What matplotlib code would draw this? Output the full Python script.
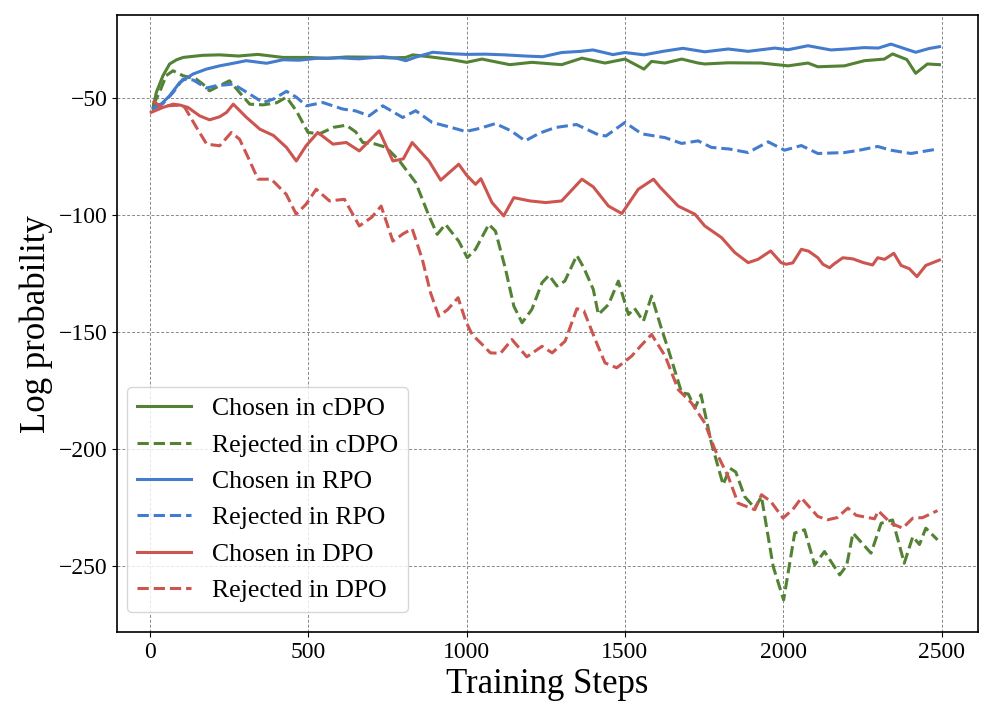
import matplotlib
matplotlib.use("Agg")
import matplotlib.pyplot as plt

plt.rcParams['font.family'] = ['Liberation Serif', 'DejaVu Serif']

# curve readings (step, log prob)
chosen_cdpo_x = [10, 20, 41, 62, 84, 105, 125, 167, 220, 280, 340, 420, 500, 560, 620, 700, 760, 808, 830, 893, 950,
                 1000, 1048, 1136, 1206, 1300, 1364, 1437, 1500, 1560, 1584, 1626, 1679, 1731, 1752, 1826, 1930,
                 2015, 2078, 2109, 2193, 2256, 2319, 2345, 2390, 2418, 2455, 2493]
chosen_cdpo_y = [-54, -47.6, -40.4, -35.4, -33.6, -32.6, -32.3, -31.7, -31.5, -32, -31.3, -32.6, -32.6, -33, -32.4,
                 -32.5, -32.8, -32.6, -31.5, -32.5, -33.5, -34.7, -33.3, -35.7, -34.7, -35.7, -32.9, -35, -33.3,
                 -37.6, -34.3, -35, -33.3, -35, -35.4, -34.9, -35, -36.2, -35, -36.6, -36.2, -34, -33.3, -31.1,
                 -33.5, -39.4, -35.4, -35.7]

rejected_cdpo_x = [10, 30, 51, 73, 104, 146, 167, 188, 230, 251, 283, 315, 357, 400, 431, 462, 499, 535, 580, 620,
                   650, 672, 710, 746, 788, 839, 881, 907, 933, 975, 1002, 1028, 1070, 1091, 1123, 1149, 1175, 1206,
                   1238, 1260, 1285, 1310, 1348, 1370, 1400, 1416, 1448, 1479, 1511, 1530, 1558, 1584, 1616, 1637,
                   1679, 1700, 1721, 1740, 1773, 1810, 1831, 1850, 1878, 1910, 1931, 1968, 2001, 2036, 2067, 2099,
                   2130, 2178, 2200, 2220, 2277, 2309, 2345, 2382, 2409, 2430, 2450, 2487]
rejected_cdpo_y = [-53, -47.6, -40.4, -38.3, -40.4, -41.9, -44, -46.9, -44, -42.6, -47.6, -52.6, -52.9, -52, -49.6,
                   -55.4, -64.7, -65.3, -62.5, -61.6, -64.5, -69, -69.6, -71.1, -76.9, -86.1, -100.4, -108.3, -104,
                   -111.2, -118.3, -114.7, -104, -106.9, -123.3, -139, -146.1, -140.4, -129, -125.8, -130.4, -128.3,
                   -117.3, -122.6, -131.9, -142.6, -138.3, -128.3, -142.6, -139.9, -145.5, -134.7, -149, -157.6,
                   -176.1, -176.6, -182.6, -176.9, -197.6, -215.4, -208.3, -210, -220.5, -225.4, -220.5, -250.4,
                   -264.7, -236.1, -234.7, -249.7, -244, -254, -250, -236.1, -244.7, -231.9, -230.5, -249, -237.6,
                   -241, -234, -239]

chosen_rpo_x = [10, 30, 62, 94, 136, 178, 220, 263, 304, 368, 420, 470, 525, 600, 660, 735, 780, 808, 839, 893, 950,
                1000, 1060, 1120, 1185, 1240, 1300, 1360, 1399, 1462, 1500, 1560, 1620, 1683, 1752, 1826, 1889, 1973,
                2015, 2078, 2150, 2200, 2256, 2300, 2340, 2418, 2460, 2493]
chosen_rpo_y = [-54.5, -53.3, -49, -43.3, -39.7, -37.6, -36.2, -35.1, -34, -35.1, -33.6, -33.8, -33, -32.8, -33.2,
                -32.3, -33, -34, -32.5, -30.4, -31, -31.3, -31.2, -31.5, -32, -32.3, -30.5, -30, -29.4, -31.4, -30.5,
                -31.5, -30, -28.7, -30.2, -29, -30, -28.6, -29.3, -27.6, -29.4, -29, -28.4, -28.6, -26.9, -30.4,
                -28.8, -28]

rejected_rpo_x = [15, 40, 73, 104, 137, 178, 210, 263, 315, 357, 390, 431, 462, 494, 546, 609, 650, 692, 735, 798,
                  839, 891, 950, 997, 1040, 1091, 1140, 1185, 1230, 1280, 1347, 1416, 1440, 1500, 1553, 1626, 1679,
                  1731, 1773, 1830, 1889, 1952, 2004, 2057, 2109, 2193, 2240, 2298, 2340, 2403, 2487]
rejected_rpo_y = [-53, -52.5, -47.6, -41.9, -42.3, -45.7, -44.7, -44, -48.3, -51.9, -50.4, -47.1, -49.6, -53.3,
                  -51.9, -54.7, -55.5, -57.6, -53.3, -58.3, -55.4, -60.4, -62.5, -64.3, -63, -60.9, -64, -68.3, -65,
                  -62.6, -61.3, -65.7, -66.2, -60.4, -65.3, -66.9, -69.4, -68.3, -71.1, -71.8, -73.3, -68.7, -72.3,
                  -70.3, -73.7, -73.3, -72.3, -70.7, -72.3, -73.7, -71.8]

chosen_dpo_x = [4, 41, 73, 95, 120, 157, 188, 220, 242, 263, 305, 347, 390, 431, 462, 493, 530, 578, 620, 661, 724,
                767, 800, 828, 881, 918, 975, 1000, 1028, 1045, 1080, 1117, 1149, 1200, 1250, 1300, 1364, 1400, 1448,
                1490, 1542, 1590, 1610, 1668, 1721, 1752, 1805, 1847, 1889, 1920, 1960, 1993, 2009, 2030, 2057, 2080,
                2109, 2125, 2146, 2160, 2188, 2220, 2253, 2282, 2298, 2320, 2349, 2372, 2398, 2422, 2450, 2493]
chosen_dpo_y = [-56.1, -54, -52.6, -53, -54, -57.6, -59.3, -58, -56.1, -52.6, -58.3, -63.3, -66, -71.1, -76.9, -70.4,
                -64.7, -69.7, -69, -72.6, -64, -76.9, -76, -69, -76.9, -85.1, -78.3, -83, -86.9, -84.5, -94.7,
                -100.4, -92.6, -94, -94.7, -94, -84.7, -88, -96.2, -99.4, -89, -84.7, -88, -96.2, -99.7, -104.7,
                -109.7, -116.1, -120.4, -119, -115.4, -120.4, -121.1, -120.5, -114.7, -115.5, -118.3, -121.1, -122.6,
                -121, -118.3, -118.8, -120.4, -121.4, -118.3, -119, -116.4, -121.6, -123, -126.4, -121.6, -119.3]

rejected_dpo_x = [9, 30, 53, 95, 110, 147, 179, 220, 257, 283, 315, 341, 383, 430, 462, 493, 525, 567, 614, 661, 700,
                  730, 767, 800, 828, 860, 886, 912, 940, 973, 997, 1017, 1049, 1075, 1107, 1143, 1190, 1238, 1270,
                  1311, 1348, 1370, 1406, 1437, 1474, 1521, 1550, 1584, 1627, 1668, 1710, 1752, 1784, 1826, 1857,
                  1910, 1931, 1960, 1999, 2030, 2057, 2109, 2140, 2170, 2204, 2230, 2288, 2300, 2340, 2377, 2409,
                  2440, 2487]
rejected_dpo_y = [-51.1, -53.3, -53.3, -53, -54, -62.6, -69.7, -70.4, -64.7, -67.6, -76.9, -84.7, -84.7, -91.1, -99.7,
                  -95.4, -89, -94, -93.3, -104.7, -101, -96.2, -111.2, -108, -105.9, -119, -133.3, -143.3, -140.5,
                  -135.4, -145.4, -151.1, -155.4, -159, -159.2, -153.3, -160.7, -156.2, -159, -154, -140.1, -141,
                  -153.3, -163.3, -165.4, -160.4, -156, -151.1, -160.4, -174.7, -180.4, -189, -200.4, -211.9, -223.3,
                  -226.1, -219.7, -222.5, -229.7, -226, -221.1, -229, -230.4, -229.5, -225.4, -228.5, -230, -226.6,
                  -231.9, -234, -229.7, -229.5, -226.5]

green = '#548235'
blue = '#437ccd'
red = '#cd5550'

fig = plt.figure(figsize=(9.97, 7.2), dpi=100)
ax = fig.add_axes([0.1174, 0.122, 0.8636, 0.857])

ax.plot(chosen_cdpo_x, chosen_cdpo_y, color=green, lw=2.2, label='Chosen in cDPO')
ax.plot(rejected_cdpo_x, rejected_cdpo_y, color=green, lw=2.2, ls='--', label='Rejected in cDPO')
ax.plot(chosen_rpo_x, chosen_rpo_y, color=blue, lw=2.2, label='Chosen in RPO')
ax.plot(rejected_rpo_x, rejected_rpo_y, color=blue, lw=2.2, ls='--', label='Rejected in RPO')
ax.plot(chosen_dpo_x, chosen_dpo_y, color=red, lw=2.2, label='Chosen in DPO')
ax.plot(rejected_dpo_x, rejected_dpo_y, color=red, lw=2.2, ls='--', label='Rejected in DPO')

ax.set_xlim(-104, 2615)
ax.set_ylim(-278.5, -14.5)
ax.set_xticks([0, 500, 1000, 1500, 2000, 2500])
ax.set_yticks([-50, -100, -150, -200, -250])
ax.tick_params(labelsize=17)
ax.grid(True, color='#888888', ls=(0, (3, 2)), lw=0.7)
for s in ax.spines.values():
    s.set_linewidth(1.2)

ax.set_xlabel('Training Steps', fontsize=25)
ax.set_ylabel('Log probability', fontsize=25)

ax.legend(loc='lower left', fontsize=18.5, handlelength=2.1, handletextpad=0.8, borderpad=0.4,
          labelspacing=0.52, framealpha=0.8, borderaxespad=0, bbox_to_anchor=(0.0116, 0.0324))

fig.savefig('out.png', dpi=100)
